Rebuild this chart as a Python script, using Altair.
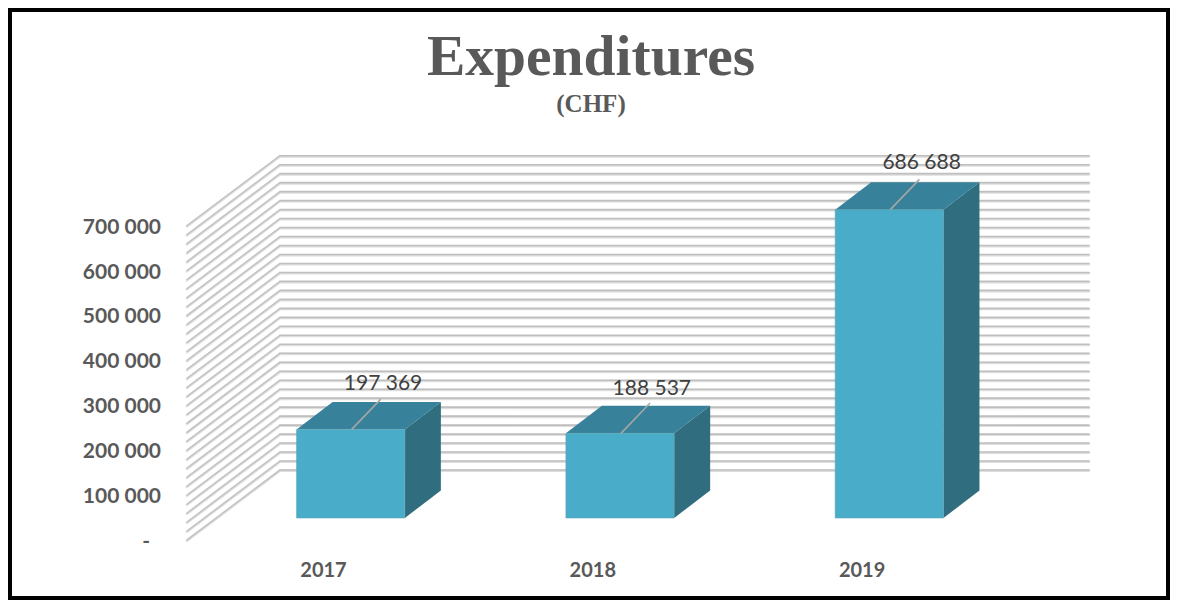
import altair as alt
import pandas as pd

# --- chart values ---
years = ["2017", "2018", "2019"]
expenditures = [197369, 188537, 686688]
value_labels = ["197 369", "188 537", "686 688"]
tick_values = [0, 100000, 200000, 300000, 400000, 500000, 600000, 700000]
tick_labels = ["-", "100 000", "200 000", "300 000", "400 000", "500 000", "600 000", "700 000"]
grid_values = list(range(0, 700001, 20000))

# --- pseudo-3D geometry, in data units (x: category slots, y: CHF) ---
BAR_W = 0.402
DEPTH_X = 0.1337
DEPTH_Y = 61200
BAR_LIFT = -106900
WALL_LIFT = -155900
WALL_L = -0.0616
WALL_R = 2.9425
WALL_FRONT = -0.407
LABEL_R = -0.5035
DASH_R = -0.5443
YEAR_X = 0.1
YEAR_Y = -220500
LEAD_X = 0.2046
LEAD_DX = 0.108
LEAD_DY = 67500
LABEL_DX = [0.321, 0.319, 0.321]
LABEL_DY = [104700, 102500, 108500]

W, H = 1158, 588
xs = alt.Scale(domain=[-1.0642, 3.2358], range=[0, W], nice=False, zero=False)
ys = alt.Scale(domain=[-285078, 1024499], range=[H, 0], nice=False, zero=False)
X = alt.X("x:Q", scale=xs, axis=None)
Y = alt.Y("y:Q", scale=ys, axis=None)

idx = list(range(len(years)))
front = pd.DataFrame({
    "x": [i for i in idx], "x2": [i + BAR_W for i in idx],
    "y": [BAR_LIFT for _ in idx], "y2": [v + BAR_LIFT for v in expenditures],
})

top_rows, side_rows = [], []
for i, v in zip(idx, expenditures):
    T = v + BAR_LIFT
    top_rows += [
        dict(k=i, x=i, y=T, y2=T),
        dict(k=i, x=i + DEPTH_X, y=T, y2=T + DEPTH_Y),
        dict(k=i, x=i + BAR_W, y=T, y2=T + DEPTH_Y),
        dict(k=i, x=i + BAR_W + DEPTH_X, y=T + DEPTH_Y, y2=T + DEPTH_Y),
    ]
    side_rows += [
        dict(k=i, x=i + BAR_W, y=BAR_LIFT, y2=T),
        dict(k=i, x=i + BAR_W + DEPTH_X, y=BAR_LIFT + DEPTH_Y, y2=T + DEPTH_Y),
    ]
top = pd.DataFrame(top_rows)
side = pd.DataFrame(side_rows)

back = pd.DataFrame({"x": [WALL_L] * len(grid_values), "x2": [WALL_R] * len(grid_values), "y": grid_values})
wall = pd.DataFrame({
    "x": [WALL_FRONT] * len(grid_values), "x2": [WALL_L] * len(grid_values),
    "y": [g + WALL_LIFT for g in grid_values], "y2": grid_values,
})
back_low = back.assign(y=back.y - 1800)
wall_low = wall.assign(y=wall.y - 1800, y2=wall.y2 - 1800)


def rules(df, color, width, diagonal=False):
    enc = dict(x=X, x2="x2:Q", y=Y)
    if diagonal:
        enc["y2"] = "y2:Q"
    return alt.Chart(df).mark_rule(color=color, strokeWidth=width, strokeCap="round").encode(**enc)


ticks = pd.DataFrame({
    "x": [DASH_R if t == 0 else LABEL_R for t in tick_values],
    "y": [t + WALL_LIFT for t in tick_values],
    "t": tick_labels,
})
year_df = pd.DataFrame({"x": [i + YEAR_X for i in idx], "y": [YEAR_Y] * 3, "t": years})
val_df = pd.DataFrame({
    "x": [i + d for i, d in zip(idx, LABEL_DX)],
    "y": [v + BAR_LIFT + d for v, d in zip(expenditures, LABEL_DY)],
    "t": value_labels,
})
lead = pd.DataFrame({
    "x": [i + LEAD_X for i in idx],
    "x2": [i + LEAD_X + LEAD_DX for i in idx],
    "y": [v + BAR_LIFT for v in expenditures],
    "y2": [v + BAR_LIFT + LEAD_DY for v in expenditures],
})

FILL_FRONT, FILL_TOP, FILL_SIDE = "#49acc8", "#37829a", "#306d7e"
GREY = "#595959"

layers = [
    rules(back_low, "#dedede", 2.4),
    rules(wall_low, "#e0e0e0", 2.4, True),
    rules(back, "#bfbfbf", 1.6),
    rules(wall, "#c4c4c4", 1.6, True),
    alt.Chart(side).mark_area(color=FILL_SIDE).encode(x=X, y=Y, y2="y2:Q", detail="k:N"),
    alt.Chart(top).mark_area(color=FILL_TOP).encode(x=X, y=Y, y2="y2:Q", detail="k:N"),
    alt.Chart(front).mark_rect(color=FILL_FRONT, stroke="#64a3b5", strokeWidth=0.6).encode(
        x=X, x2="x2:Q", y=Y, y2="y2:Q"),
    alt.Chart(lead).mark_rule(color="#a6a6a6", strokeWidth=1.6).encode(x=X, x2="x2:Q", y=Y, y2="y2:Q"),
    alt.Chart(val_df).mark_text(font="Lato", fontSize=21, color="#404040", align="center", baseline="middle", dy=2).encode(
        x=X, y=Y, text="t:N"),
    alt.Chart(ticks).mark_text(font="Lato", fontSize=21, fontWeight="bold", color=GREY, align="right", baseline="middle", dy=2).encode(
        x=X, y=Y, text="t:N"),
    alt.Chart(year_df).mark_text(font="Lato", fontSize=20, fontWeight="bold", color=GREY, align="center", baseline="middle", dy=2).encode(
        x=X, y=Y, text="t:N"),
]

chart = alt.layer(*layers).properties(
    width=W,
    height=H,
    background="#ffffff",
    padding={"left": 2, "top": 2, "right": 2, "bottom": 2},
    autosize=alt.AutoSizeParams(type="none"),
    title=alt.TitleParams(
        "Expenditures",
        subtitle="(CHF)",
        anchor="middle",
        frame="group",
        dx=2,
        font="Liberation Serif",
        fontSize=57.5,
        fontWeight="bold",
        color=GREY,
        subtitleFont="Liberation Serif",
        subtitleFontSize=25,
        subtitleFontWeight="bold",
        subtitleColor=GREY,
        subtitlePadding=5,
        offset=-108,
    ),
).configure_view(stroke="#000000", strokeWidth=4)

chart.save("out.html", embed_options={"renderer": "svg", "actions": False})
